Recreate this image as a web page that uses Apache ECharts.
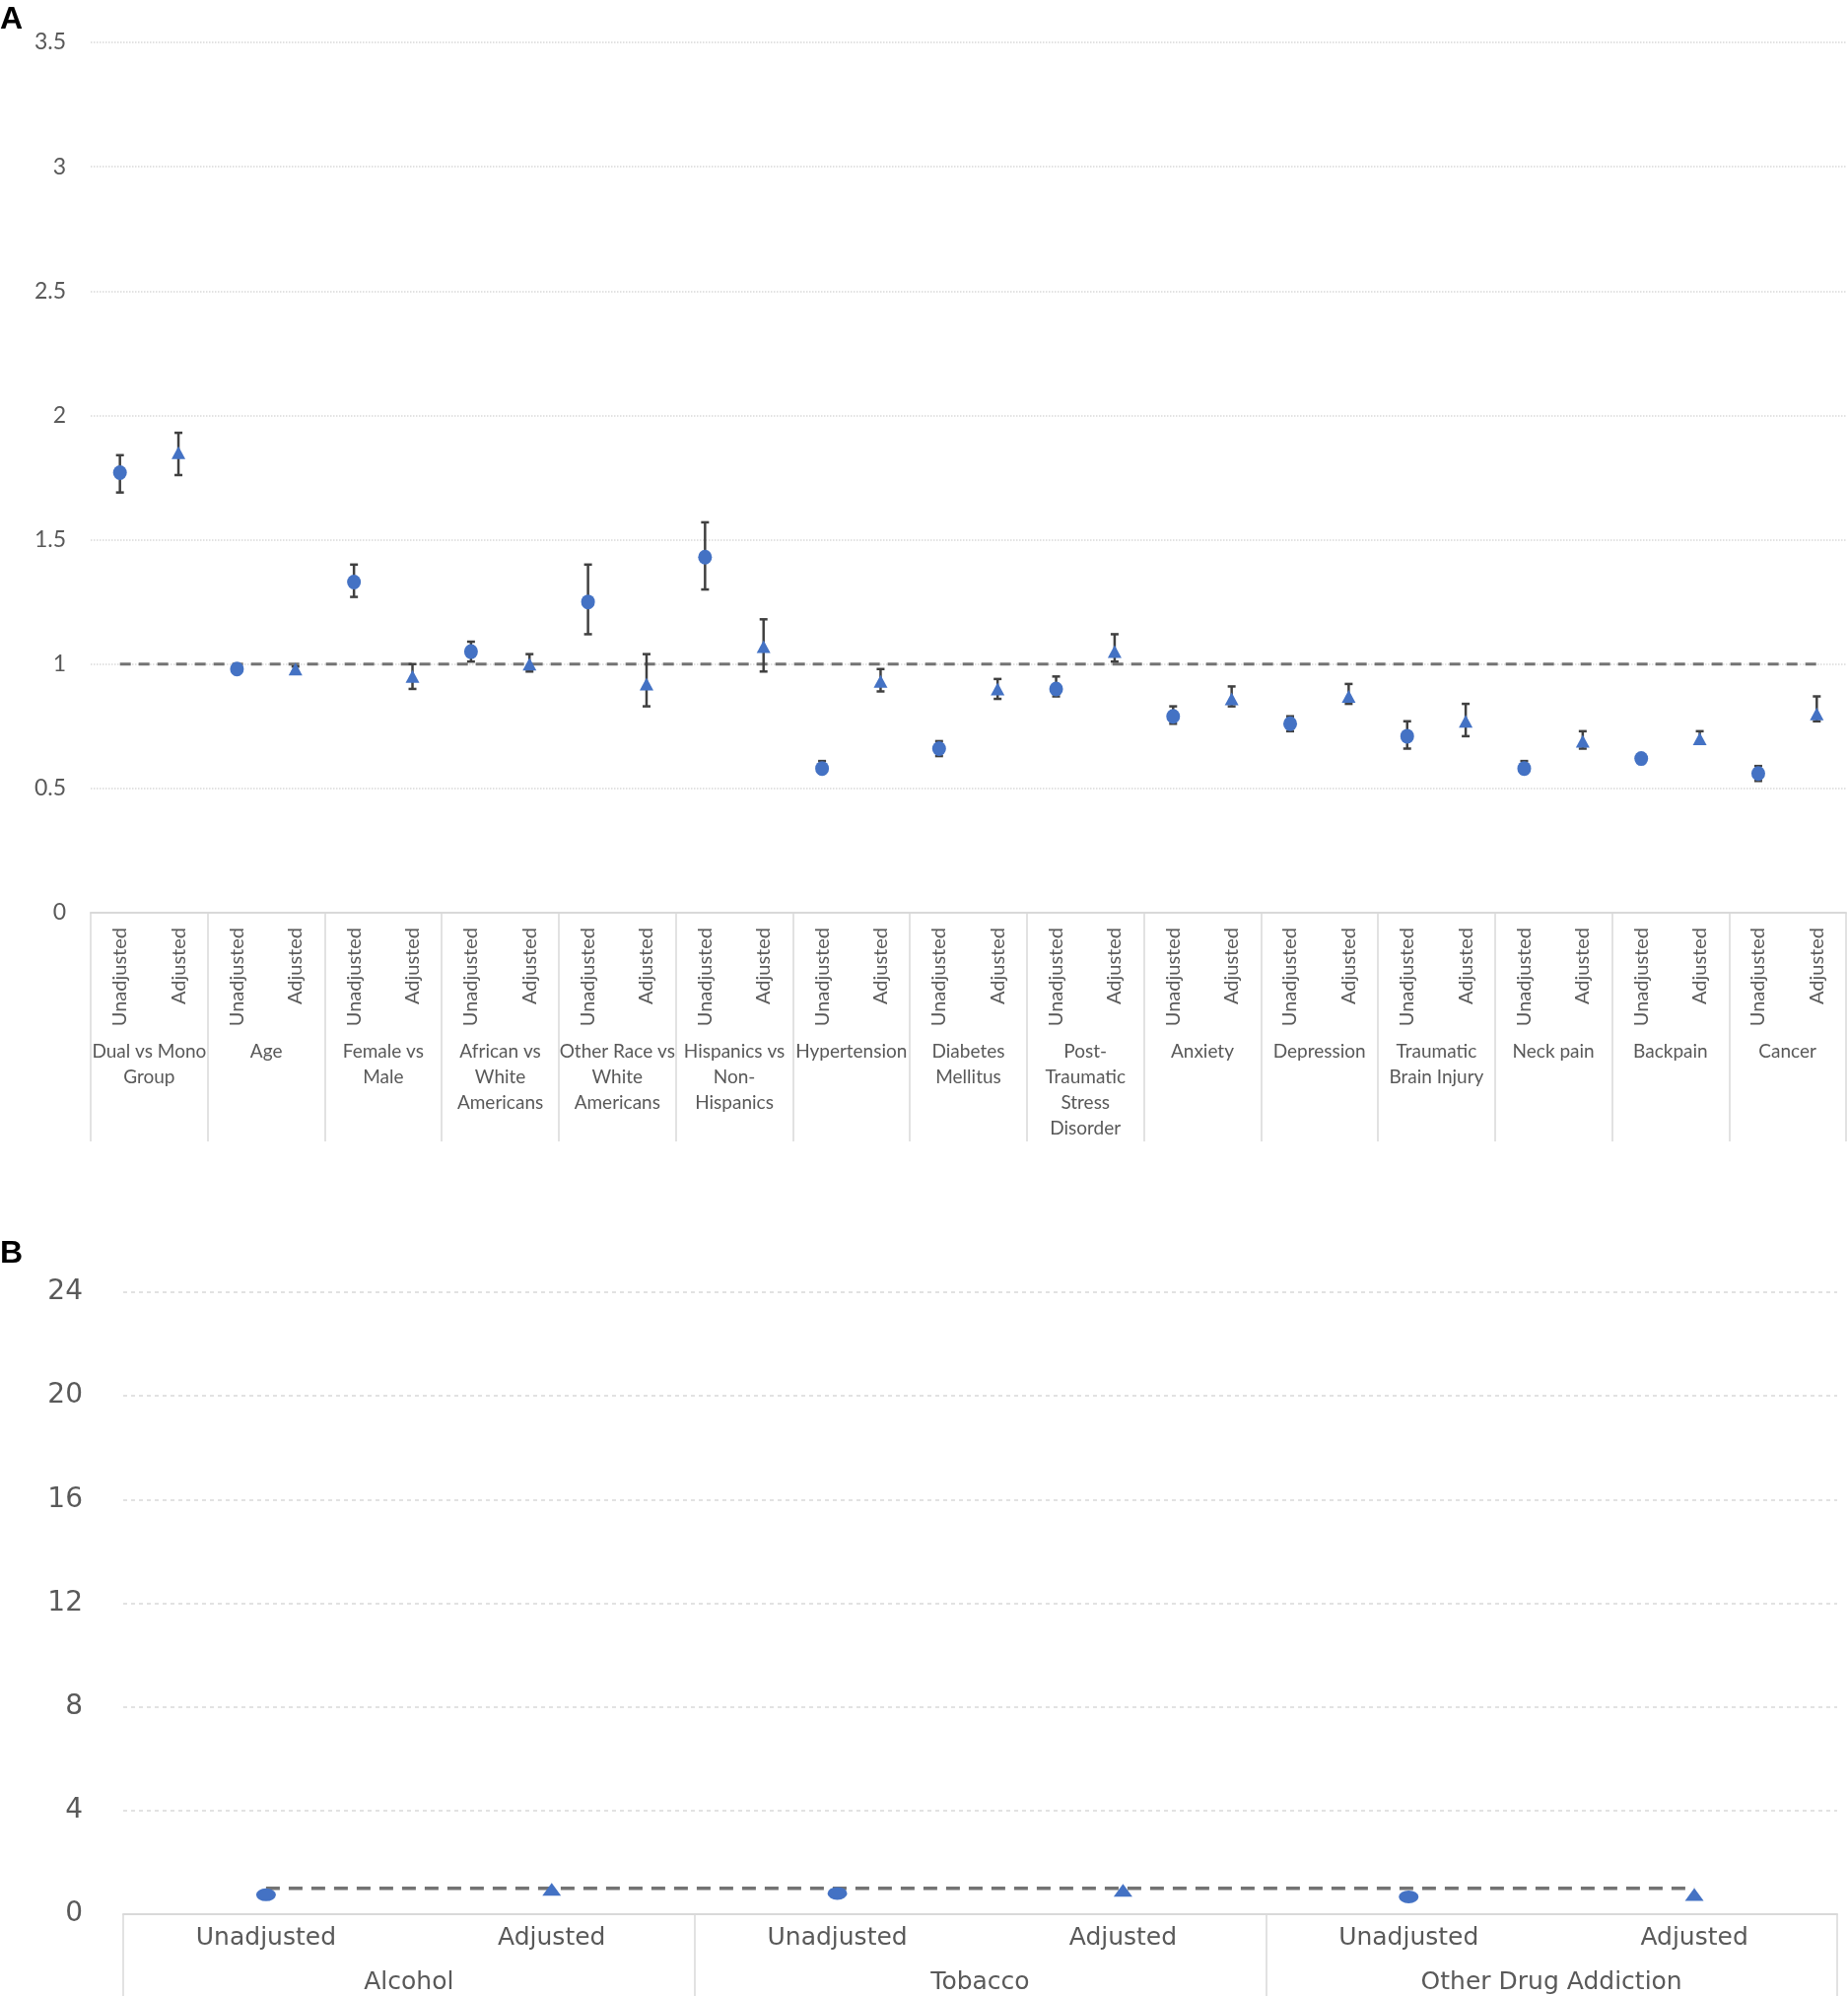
<!DOCTYPE html>
<html>
<head>
<meta charset="utf-8">
<script src="https://cdn.jsdelivr.net/npm/echarts@6/dist/echarts.min.js"></script>
<style>
  html, body { margin: 0; padding: 0; background: #fff; }
  #chart { width: 1875px; height: 2025px; }
</style>
</head>
<body>
<div id="chart"></div>
<script>
// panel A: odds ratios with 95% CI
var groupsA = ['Dual vs Mono\nGroup', 'Age', 'Female vs\nMale', 'African vs\nWhite\nAmericans',
    'Other Race vs\nWhite\nAmericans', 'Hispanics vs\nNon-\nHispanics', 'Hypertension',
    'Diabetes\nMellitus', 'Post-\nTraumatic\nStress\nDisorder', 'Anxiety', 'Depression',
    'Traumatic\nBrain Injury', 'Neck pain', 'Backpain', 'Cancer'];
var subLabels = ['Unadjusted', 'Adjusted'];

var unadjA   = [1.77, 0.98, 1.33, 1.05, 1.25, 1.43, 0.58, 0.66, 0.90, 0.79, 0.76, 0.71, 0.58, 0.62, 0.56];
var unadjLoA = [1.69, 0.97, 1.27, 1.01, 1.12, 1.30, 0.56, 0.63, 0.87, 0.76, 0.73, 0.66, 0.56, 0.61, 0.53];
var unadjHiA = [1.84, 0.99, 1.40, 1.09, 1.40, 1.57, 0.61, 0.69, 0.95, 0.83, 0.79, 0.77, 0.61, 0.63, 0.59];
var adjA     = [1.85, 0.98, 0.95, 1.00, 0.92, 1.07, 0.93, 0.90, 1.05, 0.86, 0.87, 0.77, 0.69, 0.70, 0.80];
var adjLoA   = [1.76, 0.97, 0.90, 0.97, 0.83, 0.97, 0.89, 0.86, 1.01, 0.83, 0.84, 0.71, 0.66, 0.68, 0.77];
var adjHiA   = [1.93, 0.99, 1.00, 1.04, 1.04, 1.18, 0.98, 0.94, 1.12, 0.91, 0.92, 0.84, 0.73, 0.73, 0.87];
var yMinA = 0, yMaxA = 3.5, yStepA = 0.5;

// panel B: substance use
var groupsB = ['Alcohol', 'Tobacco', 'Other Drug Addiction'];
var unadjB = [0.75, 0.80, 0.67];
var adjB   = [0.96, 0.92, 0.76];
var yMinB = 0, yMaxB = 24, yStepB = 4;

var refValue = 1;

var blue = '#4472C4';
var grey = '#595959';
var light = '#d9d9d9';

function expand(groups) {
    var out = [];
    groups.forEach(function () { subLabels.forEach(function (s) { out.push(s); }); });
    return out;
}
var catsA = expand(groupsA);
var catsB = expand(groupsB);

function points(vals, offset) {
    return vals.map(function (v, i) { return [i * 2 + offset, v]; });
}
function bars(lo, hi, offset) {
    return lo.map(function (l, i) { return [i * 2 + offset, l, hi[i]]; });
}

function renderErr(params, api) {
    var lo = api.coord([api.value(0), api.value(1)]);
    var hi = api.coord([api.value(0), api.value(2)]);
    var cap = 4;
    var st = { stroke: '#404040', lineWidth: 2.5 };
    return {
        type: 'group',
        children: [
            { type: 'line', shape: { x1: lo[0], y1: lo[1], x2: hi[0], y2: hi[1] }, style: st },
            { type: 'line', shape: { x1: lo[0] - cap, y1: lo[1], x2: lo[0] + cap, y2: lo[1] }, style: st },
            { type: 'line', shape: { x1: hi[0] - cap, y1: hi[1], x2: hi[0] + cap, y2: hi[1] }, style: st }
        ]
    };
}

var myChart = echarts.init(document.getElementById('chart'));
var option = {
    animation: false,
    textStyle: { fontFamily: 'Lato' },
    title: [
        { text: 'A', left: 0, top: 4, padding: 0, textStyle: { fontSize: 32, fontWeight: 'bold', color: '#000', fontFamily: 'Liberation Sans' } },
        { text: 'B', left: 0, top: 1256, padding: 0, textStyle: { fontSize: 32, fontWeight: 'bold', color: '#000', fontFamily: 'Liberation Sans' } }
    ],
    grid: [
        { left: 92, top: 43, width: 1781, height: 883, outerBoundsMode: 'none' },
        { left: 125, top: 1311, width: 1739, height: 631, outerBoundsMode: 'none' }
    ],
    xAxis: [
        {
            type: 'category', gridIndex: 0, position: 'bottom', data: catsA,
            axisLine: { show: true, lineStyle: { color: light, width: 2 } },
            axisTick: { show: false },
            axisLabel: { interval: 0, rotate: 90, margin: 15, fontSize: 20, color: grey, fontFamily: 'Lato' },
            splitLine: { show: false }
        },
        {
            type: 'category', gridIndex: 0, position: 'bottom', offset: 0, data: groupsA,
            axisLine: { show: false, onZero: false },
            axisTick: { show: true, interval: 0, length: 232, lineStyle: { color: light, width: 1.5 } },
            axisLabel: { interval: 0, margin: 128, fontSize: 19, lineHeight: 26, color: grey, fontFamily: 'Lato' },
            splitLine: { show: false }
        },
        {
            type: 'category', gridIndex: 1, position: 'bottom', data: catsB,
            axisLine: { show: true, lineStyle: { color: light, width: 2 } },
            axisTick: { show: false },
            axisLabel: { interval: 0, margin: 12, fontSize: 25, color: grey, fontFamily: 'DejaVu Sans' },
            splitLine: { show: false }
        },
        {
            type: 'category', gridIndex: 1, position: 'bottom', offset: 0, data: groupsB,
            axisLine: { show: false, onZero: false },
            axisTick: { show: true, interval: 0, length: 90, lineStyle: { color: light, width: 1.5 } },
            axisLabel: { interval: 0, margin: 55, fontSize: 25, lineHeight: 28, color: grey, fontFamily: 'DejaVu Sans' },
            splitLine: { show: false }
        }
    ],
    yAxis: [
        {
            type: 'value', gridIndex: 0, min: yMinA, max: yMaxA, interval: yStepA,
            axisLine: { show: false }, axisTick: { show: false },
            axisLabel: { margin: 25, fontSize: 23, color: grey, fontFamily: 'Lato' },
            splitLine: { lineStyle: { color: light, type: 'dotted', width: 1.5 } }
        },
        {
            type: 'value', gridIndex: 1, min: yMinB, max: yMaxB, interval: yStepB,
            axisLine: { show: false }, axisTick: { show: false },
            axisLabel: { margin: 41, fontSize: 28, color: grey, fontFamily: 'DejaVu Sans' },
            splitLine: { lineStyle: { color: light, type: [4, 4], width: 1.5 } }
        }
    ],
    series: [
        {
            name: 'refA', type: 'line', xAxisIndex: 0, yAxisIndex: 0, z: 1,
            data: [[0, refValue], [catsA.length - 1, refValue]],
            symbol: 'none', lineStyle: { color: '#737373', width: 3, type: [11, 8] }
        },
        {
            name: 'errUnadjA', type: 'custom', xAxisIndex: 0, yAxisIndex: 0, z: 2,
            renderItem: renderErr, encode: { x: 0, y: [1, 2] },
            data: bars(unadjLoA, unadjHiA, 0)
        },
        {
            name: 'errAdjA', type: 'custom', xAxisIndex: 0, yAxisIndex: 0, z: 2,
            renderItem: renderErr, encode: { x: 0, y: [1, 2] },
            data: bars(adjLoA, adjHiA, 1)
        },
        {
            name: 'Unadjusted', type: 'scatter', xAxisIndex: 0, yAxisIndex: 0, z: 3,
            symbol: 'circle', symbolSize: [14, 15],
            itemStyle: { color: blue, opacity: 1 },
            data: points(unadjA, 0)
        },
        {
            name: 'Adjusted', type: 'scatter', xAxisIndex: 0, yAxisIndex: 0, z: 3,
            symbol: 'triangle', symbolSize: [14, 13],
            itemStyle: { color: blue, opacity: 1 },
            data: points(adjA, 1)
        },
        {
            name: 'refB', type: 'line', xAxisIndex: 2, yAxisIndex: 1, z: 1,
            data: [[0, refValue], [catsB.length - 1, refValue]],
            symbol: 'none', lineStyle: { color: '#737373', width: 3.5, type: [14, 9] }
        },
        {
            name: 'UnadjustedB', type: 'scatter', xAxisIndex: 2, yAxisIndex: 1, z: 3,
            symbol: 'circle', symbolSize: [20, 13],
            itemStyle: { color: blue, opacity: 1 },
            data: points(unadjB, 0)
        },
        {
            name: 'AdjustedB', type: 'scatter', xAxisIndex: 2, yAxisIndex: 1, z: 3,
            symbol: 'triangle', symbolSize: [19, 13],
            itemStyle: { color: blue, opacity: 1 },
            data: points(adjB, 1)
        }
    ]
};
myChart.setOption(option);
</script>
</body>
</html>
